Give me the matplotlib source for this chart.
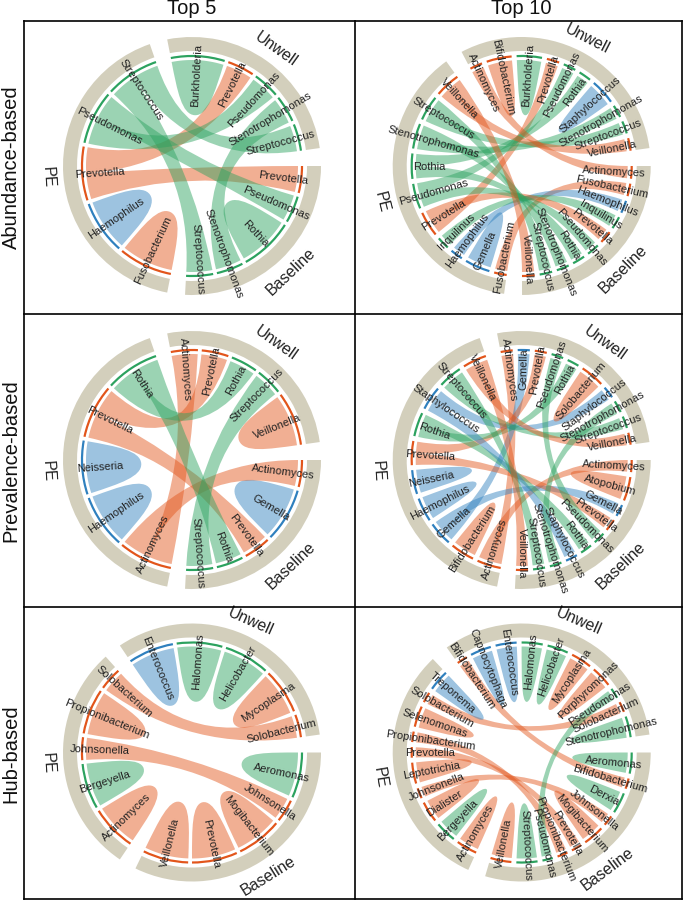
import numpy as np
import matplotlib
matplotlib.use("Agg")
import matplotlib.pyplot as plt
from matplotlib.patches import Wedge, PathPatch
from matplotlib.path import Path

plt.rcParams['font.family'] = ['Liberation Sans', 'DejaVu Sans']

ORANGE = '#E2551B'
GREEN = '#2CA25F'
BLUE = '#2F80BE'
RING = '#D3CFBC'

green_taxa = ['Burkholderia', 'Pseudomonas', 'Stenotrophomonas', 'Streptococcus', 'Rothia', 'Inquilinus',
              'Halomonas', 'Helicobacter', 'Aeromonas', 'Bergeyella', 'Derxia']
blue_taxa = ['Haemophilus', 'Neisseria', 'Gemella', 'Staphylococcus', 'Enterococcus', 'Capnocytophaga', 'Treponema']

# abundance, top 5
ab5_unwell = ['Burkholderia', 'Prevotella', 'Pseudomonas', 'Stenotrophomonas', 'Streptococcus']
ab5_base = ['Prevotella', 'Pseudomonas', 'Rothia', 'Stenotrophomonas', 'Streptococcus']
ab5_pe = ['Fusobacterium', 'Haemophilus', 'Prevotella', 'Pseudomonas', 'Streptococcus']
ab5_swap = ['Pseudomonas']

# abundance, top 10
ab10_unwell = ['Actinomyces', 'Bifidobacterium', 'Burkholderia', 'Prevotella', 'Pseudomonas', 'Rothia',
               'Staphylococcus', 'Stenotrophomonas', 'Streptococcus', 'Veillonella']
ab10_base = ['Actinomyces', 'Fusobacterium', 'Haemophilus', 'Inquilinus', 'Prevotella', 'Pseudomonas',
             'Rothia', 'Stenotrophomonas', 'Streptococcus', 'Veillonella']
ab10_pe = ['Fusobacterium', 'Gemella', 'Haemophilus', 'Inquilinus', 'Prevotella', 'Pseudomonas',
           'Rothia', 'Stenotrophomonas', 'Streptococcus', 'Veillonella']
ab10_swap = ['Veillonella', 'Streptococcus', 'Stenotrophomonas', 'Prevotella']

# prevalence, top 5
pr5_unwell = ['Actinomyces', 'Prevotella', 'Rothia', 'Streptococcus', 'Veillonella']
pr5_base = ['Actinomyces', 'Gemella', 'Prevotella', 'Rothia', 'Streptococcus']
pr5_pe = ['Actinomyces', 'Haemophilus', 'Neisseria', 'Prevotella', 'Rothia']
pr5_swap = ['Rothia', 'Actinomyces']

# prevalence, top 10
pr10_unwell = ['Actinomyces', 'Gemella', 'Prevotella', 'Pseudomonas', 'Rothia', 'Solobacterium',
               'Staphylococcus', 'Stenotrophomonas', 'Streptococcus', 'Veillonella']
pr10_base = ['Actinomyces', 'Atopobium', 'Gemella', 'Prevotella', 'Pseudomonas', 'Rothia',
             'Staphylococcus', 'Stenotrophomonas', 'Streptococcus', 'Veillonella']
pr10_pe = ['Actinomyces', 'Bifidobacterium', 'Gemella', 'Haemophilus', 'Neisseria', 'Prevotella',
           'Rothia', 'Staphylococcus', 'Streptococcus', 'Veillonella']
pr10_swap = ['Veillonella', 'Streptococcus', 'Rothia', 'Gemella', 'Actinomyces']

# hub, top 5
hub5_unwell = ['Enterococcus', 'Halomonas', 'Helicobacter', 'Mycoplasma', 'Solobacterium']
hub5_base = ['Aeromonas', 'Johnsonella', 'Mogibacterium', 'Prevotella', 'Veillonella']
hub5_pe = ['Actinomyces', 'Bergeyella', 'Johnsonella', 'Propionibacterium', 'Solobacterium']

# hub, top 10
hub10_unwell = ['Bifidobacterium', 'Capnocytophaga', 'Enterococcus', 'Halomonas', 'Helicobacter', 'Mycoplasma',
                'Porphyromonas', 'Pseudomonas', 'Solobacterium', 'Stenotrophomonas']
hub10_base = ['Aeromonas', 'Bifidobacterium', 'Derxia', 'Johnsonella', 'Mogibacterium', 'Prevotella',
              'Propionibacterium', 'Pseudomonas', 'Streptococcus', 'Veillonella']
hub10_pe = ['Actinomyces', 'Bergeyella', 'Dialister', 'Johnsonella', 'Leptotrichia', 'Prevotella',
            'Propionibacterium', 'Selenomonas', 'Solobacterium', 'Treponema']

titles = ['Top 5', 'Top 10']
rows = ['Abundance-based', 'Prevalence-based', 'Hub-based']

W, H = 685, 904
R_OUT, R_IN = 129, 115
R_ARC = 110
R_CH = 106
R_TXT = 92
GROUP_GAP = 8


def taxon_colour(name):
    if name in green_taxa:
        return GREEN
    if name in blue_taxa:
        return BLUE
    return ORANGE


def pol(c, a, r):
    t = np.radians(a)
    return np.array([c[0] + r * np.cos(t), c[1] + r * np.sin(t)])


def arc_pts(c, a0, a1, r):
    return [pol(c, a, r) for a in np.linspace(a0, a1, 20)]


def draw_link(ax, c, s1, s2, col):
    # ribbon from one slot to another, control point in the centre of the circle
    verts = arc_pts(c, s1[0], s1[1], R_CH)
    codes = [Path.MOVETO] + [Path.LINETO] * 19
    verts += [np.array(c, float), pol(c, s2[0], R_CH)]
    codes += [Path.CURVE3, Path.CURVE3]
    verts += arc_pts(c, s2[0], s2[1], R_CH)[1:]
    codes += [Path.LINETO] * 19
    verts += [np.array(c, float), pol(c, s1[0], R_CH)]
    codes += [Path.CURVE3, Path.CURVE3]
    ax.add_patch(PathPatch(Path(verts, codes), fc=col, ec='none', alpha=0.47, zorder=3))


def draw_petal(ax, c, a0, a1, col):
    mid = (a0 + a1) / 2
    rt = R_CH * 0.48
    half = R_CH * np.sin(np.radians(abs(a1 - a0) / 2))
    tip = pol(c, mid, rt)
    tan = pol(c, mid - 90, 1) - np.array(c)
    verts = arc_pts(c, a0, a1, R_CH)
    codes = [Path.MOVETO] + [Path.LINETO] * 19
    verts += [pol(c, a1, R_CH * 0.72), tip + tan * half * 0.5, tip]
    codes += [Path.CURVE4] * 3
    verts += [tip - tan * half * 0.5, pol(c, a0, R_CH * 0.72), pol(c, a0, R_CH)]
    codes += [Path.CURVE4] * 3
    ax.add_patch(PathPatch(Path(verts, codes), fc=col, ec='none', alpha=0.47, zorder=3))


def chord(ax, c, unwell, base, pe, swap=(), sector_gap=2.0):
    groups = {'Baseline': base, 'PE': pe, 'Unwell': unwell}
    units = {}
    for g, names in groups.items():
        for n in names:
            others = [o for o in groups if o != g and n in groups[o]]
            if g == 'PE':
                units[(g, n)] = max(len(others), 2 if not others else 1)
            else:
                units[(g, n)] = 1 if others else 2
    n_sect = sum(len(v) for v in groups.values())
    total = sum(units.values())
    u = (360 - 3 * GROUP_GAP - (n_sect - 3) * sector_gap) / total

    sectors = {}
    a = 0.0
    for g, names in groups.items():
        g0 = a
        for i, n in enumerate(names):
            a1 = a - units[(g, n)] * u
            sectors[(g, n)] = (a, a1)
            a = a1
            if i < len(names) - 1:
                a -= sector_gap
        g1 = a
        ax.add_patch(Wedge(c, R_OUT, g1, g0, width=R_OUT - R_IN, fc=RING, ec='none', zorder=1))
        md = (g0 + g1) / 2
        p = pol(c, md, 144)
        rot = md - 90 if np.sin(np.radians(md)) > 0 else md + 90
        ax.text(p[0], p[1], g, fontsize=11.5, rotation=rot, rotation_mode='anchor',
                ha='center', va='center', color='#222222', zorder=6)
        a -= GROUP_GAP

    for (g, n), (a0, a1) in sectors.items():
        col = taxon_colour(n)
        ax.add_patch(Wedge(c, R_ARC + 1.1, a1, a0, width=2.2, fc=col, ec='none', zorder=2))
        md = (a0 + a1) / 2
        p = pol(c, md, R_TXT)
        rot = md if np.cos(np.radians(md)) >= 0 else md - 180
        ax.text(p[0], p[1], n, fontsize=8.0, rotation=rot, rotation_mode='anchor',
                ha='center', va='center', color='#222222', zorder=6)

    # slots: PE taxa with two links share their sector
    for (g, n), (a0, a1) in sectors.items():
        col = taxon_colour(n)
        if g == 'PE':
            partners = [o for o in ('Baseline', 'Unwell') if n in groups[o]]
            if not partners:
                draw_petal(ax, c, a0, a1, col)
                continue
            if n in swap:
                partners = partners[::-1]
            for i, o in enumerate(partners):
                s = (a0 - i * u, a0 - (i + 1) * u)
                draw_link(ax, c, s, sectors[(o, n)], col)
        elif g == 'Unwell':
            if n in groups['PE']:
                continue
            if n in groups['Baseline']:
                draw_link(ax, c, (a0, a1), sectors[('Baseline', n)], col)
            else:
                draw_petal(ax, c, a0, a1, col)
        else:
            if n not in groups['PE'] and n not in groups['Unwell']:
                draw_petal(ax, c, a0, a1, col)


fig = plt.figure(figsize=(W / 100, H / 100), dpi=100)
ax = fig.add_axes([0, 0, 1, 1])
ax.set_xlim(0, W)
ax.set_ylim(0, H)
ax.set_aspect('equal')
ax.axis('off')

xs = [192, 521.7]
ys = [H - 167, H - 461, H - 753.5]
chord(ax, (xs[0], ys[0]), ab5_unwell, ab5_base, ab5_pe, ab5_swap)
chord(ax, (xs[1], ys[0]), ab10_unwell, ab10_base, ab10_pe, ab10_swap, sector_gap=2.6)
chord(ax, (xs[0], ys[1]), pr5_unwell, pr5_base, pr5_pe, pr5_swap)
chord(ax, (xs[1], ys[1]), pr10_unwell, pr10_base, pr10_pe, pr10_swap, sector_gap=2.6)
chord(ax, (xs[0], ys[2]), hub5_unwell, hub5_base, hub5_pe)
chord(ax, (xs[1], ys[2]), hub10_unwell, hub10_base, hub10_pe, sector_gap=2.6)

# panel frame
for x in [24.5, 355, 682]:
    ax.plot([x, x], [H - 22, H - 900], color='black', lw=1.2, zorder=7, solid_capstyle='projecting')
for y in [22, 315, 608, 900]:
    ax.plot([24.5, 682], [H - y, H - y], color='black', lw=1.2, zorder=7, solid_capstyle='projecting')

for x, t in zip(xs, titles):
    ax.text(x, H - 9, t, fontsize=14.5, ha='center', va='center', color='#111111')
for y, t in zip(ys, rows):
    ax.text(11, y, t, fontsize=14.5, rotation=90, ha='center', va='center', color='#111111')

fig.savefig('out.png', dpi=100)
